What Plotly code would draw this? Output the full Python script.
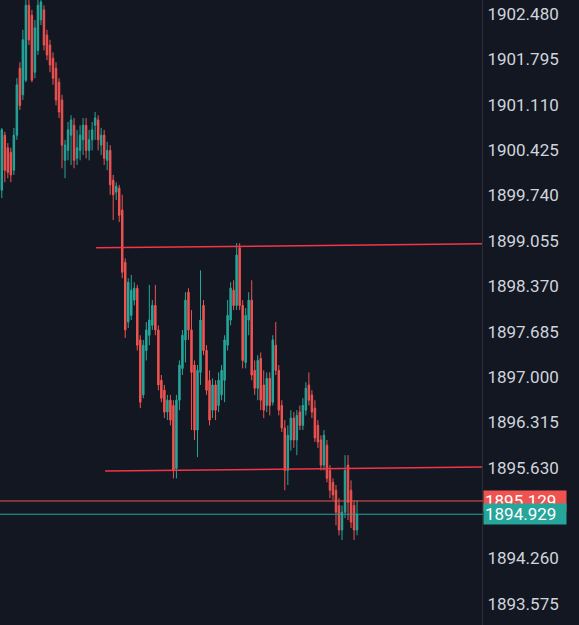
import plotly.graph_objects as go

# OHLC data (prices), one candle per bar
open_ = [1899.82, 1900.65, 1900.46, 1900.39, 1900.12, 1900.65, 1901.66, 1901.26, 1901.48, 1902.61,
         1902.46, 1901.60, 1901.93, 1902.39, 1902.54, 1902.16, 1902.01, 1901.81, 1901.66, 1901.45,
         1901.18, 1900.27, 1900.42, 1900.65, 1900.80, 1900.30, 1900.42, 1900.58, 1900.80, 1900.42,
         1900.58, 1900.80, 1900.88, 1900.50, 1900.65, 1900.27, 1900.42, 1899.97, 1899.79, 1899.85,
         1899.52, 1898.73, 1897.83, 1897.93, 1898.16, 1898.34, 1897.56, 1896.73, 1897.40, 1897.63,
         1897.78, 1898.08, 1897.71, 1896.95, 1896.80, 1896.47, 1896.65, 1896.57, 1895.62, 1896.65,
         1897.13, 1897.56, 1898.28, 1897.71, 1897.18, 1896.20, 1897.07, 1898.08, 1897.40, 1896.95,
         1896.50, 1896.88, 1896.57, 1896.73, 1896.95, 1897.48, 1897.86, 1898.31, 1898.08, 1898.95,
         1898.08, 1897.22, 1897.86, 1898.16, 1897.10, 1896.83, 1897.28, 1896.88, 1896.57, 1896.98,
         1896.62, 1897.48, 1897.10, 1896.57, 1896.23, 1895.59, 1896.05, 1896.38, 1896.05, 1896.47,
         1896.27, 1896.50, 1896.88, 1896.73, 1896.53, 1896.27, 1896.05, 1895.67, 1895.97, 1895.59,
         1895.41, 1895.29, 1895.06, 1894.69, 1894.96, 1895.67, 1895.29, 1895.06, 1894.69]
high = [1900.76, 1900.70, 1900.53, 1900.46, 1900.76, 1901.51, 1901.75, 1902.24, 1902.84, 1902.84,
        1902.54, 1902.39, 1902.77, 1902.92, 1902.61, 1902.24, 1902.09, 1901.90, 1901.75, 1901.51,
        1901.26, 1900.58, 1900.85, 1900.95, 1900.91, 1900.73, 1900.80, 1900.91, 1900.91, 1900.73,
        1900.85, 1901.00, 1900.95, 1900.76, 1900.73, 1900.55, 1900.50, 1900.05, 1899.94, 1899.90,
        1899.75, 1898.79, 1898.49, 1898.54, 1898.43, 1898.39, 1897.63, 1897.56, 1897.83, 1898.39,
        1898.16, 1898.39, 1897.78, 1897.03, 1896.88, 1896.73, 1896.73, 1896.65, 1896.73, 1897.25,
        1897.71, 1898.28, 1898.34, 1898.01, 1897.25, 1897.18, 1898.61, 1898.16, 1897.48, 1897.10,
        1896.98, 1896.95, 1897.07, 1897.18, 1897.63, 1898.16, 1898.43, 1898.46, 1899.02, 1899.02,
        1898.16, 1898.04, 1898.28, 1898.46, 1897.25, 1897.33, 1897.37, 1897.10, 1897.07, 1897.07,
        1897.63, 1897.83, 1897.18, 1896.65, 1896.35, 1896.27, 1896.50, 1896.47, 1896.50, 1896.57,
        1896.68, 1896.92, 1897.07, 1896.80, 1896.65, 1896.35, 1896.12, 1896.20, 1896.05, 1895.67,
        1895.47, 1895.37, 1895.17, 1895.06, 1895.82, 1895.82, 1895.44, 1895.14, 1895.14]
low = [1899.70, 1899.94, 1900.00, 1899.94, 1900.05, 1900.58, 1901.03, 1901.18, 1901.45, 1902.01,
       1901.45, 1901.51, 1901.86, 1902.31, 1901.93, 1901.78, 1901.60, 1901.41, 1901.10, 1900.91,
       1900.15, 1900.00, 1900.27, 1900.20, 1900.15, 1900.20, 1900.27, 1900.35, 1900.30, 1900.27,
       1900.42, 1900.58, 1900.42, 1900.35, 1900.20, 1900.12, 1899.75, 1899.37, 1899.67, 1899.34,
       1898.49, 1897.59, 1897.74, 1897.86, 1898.08, 1897.40, 1896.53, 1896.68, 1897.25, 1897.48,
       1897.71, 1897.63, 1896.80, 1896.62, 1896.38, 1896.35, 1896.27, 1895.47, 1895.47, 1896.50,
       1897.03, 1897.22, 1897.56, 1896.20, 1896.05, 1895.79, 1896.88, 1897.33, 1896.73, 1896.27,
       1896.38, 1896.35, 1896.47, 1896.65, 1896.62, 1897.40, 1897.78, 1898.01, 1898.01, 1898.01,
       1897.13, 1897.13, 1897.63, 1896.95, 1896.73, 1896.65, 1896.50, 1896.38, 1896.47, 1896.42,
       1896.57, 1897.03, 1896.42, 1896.17, 1895.29, 1895.37, 1895.89, 1895.93, 1895.82, 1896.20,
       1896.20, 1896.42, 1896.57, 1896.38, 1896.02, 1895.93, 1895.59, 1895.59, 1895.41, 1895.17,
       1895.14, 1894.76, 1894.61, 1894.54, 1894.87, 1894.84, 1894.72, 1894.54, 1894.61]
close = [1900.73, 1900.12, 1900.09, 1900.05, 1900.65, 1901.41, 1901.10, 1902.09, 1902.61, 1902.09,
         1901.48, 1902.27, 1902.61, 1902.66, 1902.01, 1901.86, 1901.71, 1901.51, 1901.18, 1901.00,
         1900.50, 1900.50, 1900.73, 1900.88, 1900.27, 1900.46, 1900.65, 1900.80, 1900.42, 1900.58,
         1900.73, 1900.91, 1900.58, 1900.65, 1900.30, 1900.42, 1899.90, 1899.75, 1899.88, 1899.44,
         1898.58, 1897.71, 1898.43, 1898.31, 1898.34, 1897.48, 1896.62, 1897.48, 1897.71, 1897.86,
         1898.08, 1897.71, 1896.88, 1896.68, 1896.47, 1896.65, 1896.35, 1895.59, 1896.65, 1897.18,
         1897.63, 1898.16, 1897.71, 1897.07, 1896.20, 1897.10, 1897.86, 1897.40, 1896.80, 1896.35,
         1896.88, 1896.50, 1896.95, 1897.10, 1897.56, 1897.93, 1898.34, 1898.08, 1898.84, 1898.08,
         1897.25, 1897.93, 1898.16, 1897.03, 1896.83, 1897.25, 1896.65, 1896.50, 1896.98, 1896.57,
         1897.56, 1897.10, 1896.50, 1896.23, 1895.59, 1896.12, 1896.38, 1896.05, 1896.42, 1896.27,
         1896.57, 1896.83, 1896.65, 1896.47, 1896.08, 1896.02, 1895.67, 1896.12, 1895.47, 1895.29,
         1895.22, 1894.96, 1894.69, 1894.96, 1895.59, 1895.11, 1894.81, 1894.69, 1894.929]

# Axis tick labels
tick_values = [1902.480, 1901.795, 1901.110, 1900.425, 1899.740, 1899.055, 1898.370,
               1897.685, 1897.000, 1896.315, 1895.630, 1894.260, 1893.575]

# Drawn levels
trend_top = [1898.95, 1899.01]      # sloped resistance line (left, right)
trend_bottom = [1895.58, 1895.64]   # sloped support line (left, right)
trend_top_start = 31.3
trend_bottom_start = 34.3
level_red = 1895.129
level_last = 1894.929

BG = "#131722"
UP = "#26a69a"
DOWN = "#ef5350"
LINE_RED = "#f23645"
TXT = "#d1d4dc"

x = list(range(len(close)))
x_start, x_end = -0.6, 159.5

fig = go.Figure()
fig.add_trace(go.Candlestick(
    x=x, open=open_, high=high, low=low, close=close,
    increasing=dict(line=dict(color=UP, width=1), fillcolor=UP),
    decreasing=dict(line=dict(color=DOWN, width=1), fillcolor=DOWN),
    whiskerwidth=0, showlegend=False, hoverinfo="skip",
))

shapes = [
    dict(type="line", xref="x", yref="y", x0=trend_top_start, x1=x_end,
         y0=trend_top[0], y1=trend_top[1], line=dict(color=LINE_RED, width=1.5)),
    dict(type="line", xref="x", yref="y", x0=trend_bottom_start, x1=x_end,
         y0=trend_bottom[0], y1=trend_bottom[1], line=dict(color=LINE_RED, width=1.5)),
    dict(type="line", xref="paper", yref="y", x0=0, x1=483 / 579,
         y0=level_red, y1=level_red, line=dict(color=DOWN, width=1)),
    dict(type="line", xref="paper", yref="y", x0=0, x1=483 / 579,
         y0=level_last, y1=level_last, line=dict(color=UP, width=1)),
]

annotations = [
    dict(xref="paper", yref="y", x=483 / 579, y=level_red, xanchor="left", yanchor="middle",
         text=f"{level_red:.3f}", showarrow=False, bgcolor=DOWN, width=80, height=18,
         align="left", borderpad=1, font=dict(family="Roboto", size=17, color="#ffffff")),
    dict(xref="paper", yref="y", x=483 / 579, y=level_last, xanchor="left", yanchor="middle",
         text=f"{level_last:.3f}", showarrow=False, bgcolor=UP, width=80, height=18,
         align="left", borderpad=1, font=dict(family="Roboto", size=17, color="#ffffff")),
]

fig.update_layout(
    width=579, height=625,
    margin=dict(l=0, r=0, t=0, b=0),
    paper_bgcolor=BG, plot_bgcolor=BG,
    shapes=shapes, annotations=annotations,
    xaxis=dict(domain=[0, 482 / 579], range=[x_start, x_end], visible=False,
               rangeslider=dict(visible=False), fixedrange=True),
    yaxis=dict(side="right", range=[1893.257, 1902.69], tickvals=tick_values,
               ticktext=[f"{v:.3f}" for v in tick_values], showgrid=False, zeroline=False,
               showline=True, linecolor="#2a2e39", linewidth=1, ticks="",
               tickfont=dict(family="Roboto", size=17, color=TXT), ticklabelstandoff=1),
)

fig.write_html(
    "out.html",
    config={"displayModeBar": False},
    post_script="document.body.style.margin='0';document.body.style.padding='0';"
                "document.body.style.background='#131722';",
)
